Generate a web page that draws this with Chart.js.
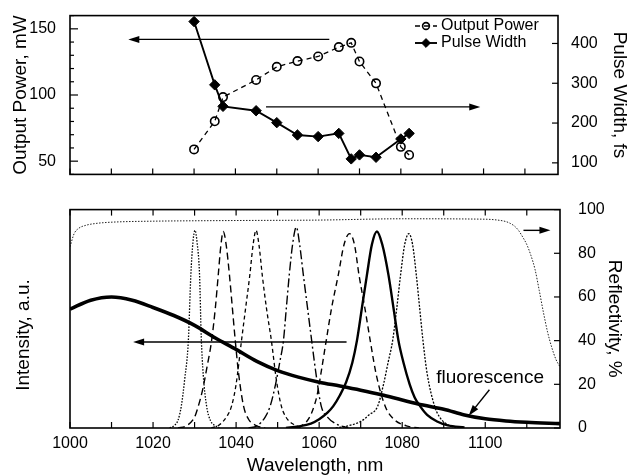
<!DOCTYPE html>
<html>
<head>
<meta charset="utf-8">
<script src="https://cdn.jsdelivr.net/npm/chart.js@4.4.0/dist/chart.umd.min.js"></script>
<style>
  html, body { margin: 0; padding: 0; background: #fff; }
  .panel { position: absolute; left: 0; }
</style>
</head>
<body>
<div style="position:relative;width:630px;height:475px">
  <div class="panel" style="top:0"><canvas id="pulseChart" width="630" height="190"></canvas></div>
  <div class="panel" style="top:190px"><canvas id="spectraChart" width="630" height="285"></canvas></div>
</div>
<script>
// ---- top panel: output power and pulse width vs wavelength ----
const wavelengths = [1030, 1035, 1037, 1045, 1050, 1055, 1060, 1065, 1068, 1070, 1074, 1080, 1082];
const outputPower = [58.9, 80.1, 98.4, 111.4, 121.3, 125.6, 129.1, 136.2, 139.4, 125.3, 108.8, 60.8, 54.7];
const pulseWidth  = [455, 296, 242, 231, 201, 170, 166, 174, 110, 120, 114, 160, 174];
const widthTicks  = [100, 200, 300, 400];

// ---- bottom panel: fluorescence, mirror reflectivity, laser spectra ----
const fluorWl = [1000, 1005, 1010, 1015, 1020, 1025, 1030, 1035, 1040, 1045, 1050, 1055, 1060, 1065, 1070, 1075, 1080, 1085, 1090, 1095, 1100, 1105, 1110, 1118];
const fluorI  = [54.4, 58.5, 60, 58.5, 55.2, 51.5, 47, 41.2, 36, 30.5, 26.3, 23.3, 21, 19.2, 17.3, 15.2, 12.8, 10.5, 8.6, 6, 4.2, 3.2, 2.6, 2];

const reflWl = [1000, 1001, 1002, 1004, 1006, 1008, 1012, 1020, 1040, 1060, 1080, 1100, 1103, 1105, 1106, 1107, 1108, 1109, 1110, 1111, 1112, 1113, 1114, 1115, 1116, 1117, 1118];
const reflR  = [83, 89, 91.3, 92.9, 93.6, 94, 94.4, 94.7, 95, 95.2, 95.8, 95.6, 95.2, 94.5, 93.7, 92.5, 90.5, 87.5, 84, 79, 72.5, 63, 53, 44, 37, 31.5, 28];

const peak1030 = [[1024,0],[1025,1],[1026,3.5],[1026.8,10],[1027.6,22],[1028.5,40],[1029.1,70],[1029.6,85],[1030.1,90.5],[1030.6,85],[1031.2,70],[1031.6,42],[1032.1,24],[1032.9,10],[1033.8,3.5],[1035,1],[1036,0]];
const peak1037 = [[1026,0],[1028,1],[1030,5],[1030.9,10],[1032,18],[1033,28],[1034.1,40],[1035,55],[1035.7,70],[1036.3,83],[1036.9,90],[1037.6,84],[1038.4,70],[1039.1,55],[1039.8,40],[1040.6,25],[1041.8,10],[1043,4],[1045,1],[1047,0]];
const peak1045 = [[1034,0],[1036,1.5],[1038,6],[1038.9,10],[1040,20],[1041.3,40],[1042.3,55],[1043.3,70],[1044.1,84],[1044.8,90.5],[1045.5,84],[1046.3,70],[1047.3,55],[1048.5,40],[1049.7,22],[1050.9,10],[1052,5],[1054,1.5],[1056,0]];
const peak1055 = [[1043,0],[1045,1],[1047,5],[1048.2,10],[1049.5,20],[1050.5,30],[1051.4,40],[1052.1,55],[1052.8,70],[1053.6,84],[1054.5,92],[1055.3,84],[1056.2,70],[1057.2,55],[1058.2,40],[1059.3,24],[1060.5,10],[1062,5],[1064,2],[1067,0]];
const peak1067 = [[1055,0],[1057,3],[1058.2,7],[1059.5,15],[1060.6,27],[1061.7,40],[1063,55],[1064.6,70],[1066,84],[1067.3,89],[1068.5,84],[1069.6,70],[1071,55],[1072.3,40],[1073.8,24],[1075.9,10],[1078,4],[1081,1],[1084,0]];
const peak1074 = [[1052,0],[1055,0.7],[1058,2],[1060,4],[1062,7],[1063.4,10],[1065,15],[1066.5,21],[1068,30],[1069.1,40],[1070.3,55],[1071.5,70],[1072.7,84],[1073.9,90],[1075.2,84],[1076.7,70],[1077.9,55],[1079.1,40],[1080.3,30],[1081.8,20],[1083,14],[1084.3,10],[1086,6],[1088.4,3],[1091,1.2],[1095,0.3]];
const peak1082 = [[1064,0],[1067,1],[1070,3],[1072,6],[1074.1,10],[1075.5,20],[1076.6,30],[1077.7,40],[1078.7,55],[1079.6,70],[1080.6,84],[1081.6,89],[1082.5,84],[1083.4,70],[1084.2,55],[1085,40],[1086,25],[1087.8,10],[1089,5],[1091,1.5],[1094,0]];

const FONT = "'Liberation Sans', Arial, Helvetica, sans-serif";
const tickFont = { family: FONT, size: 16 };
const titleFont = { family: FONT, size: 19, lineHeight: 1 };

const pairs = arr => arr.map(([x, y]) => ({ x, y }));
const zip = (xs, ys) => xs.map((x, i) => ({ x, y: ys[i] }));

// box around plot + inward tick marks
const frameTicks = {
  id: 'frameTicks',
  afterDraw(chart, args, opts) {
    const { ctx, chartArea: a } = chart;
    ctx.save();
    ctx.strokeStyle = '#000';
    ctx.lineWidth = 1.2;
    (opts.marks || []).forEach(m => {
      const s = chart.scales[m.scale];
      s.ticks.forEach(t => {
        const len = (m.major && t.value % m.major !== 0) ? m.minorLen : m.len;
        const p = s.getPixelForValue(t.value);
        ctx.beginPath();
        if (m.edge === 'bottom') { ctx.moveTo(p, a.bottom); ctx.lineTo(p, a.bottom - len); }
        else if (m.edge === 'top') { ctx.moveTo(p, a.top); ctx.lineTo(p, a.top + len); }
        else if (m.edge === 'left') { ctx.moveTo(a.left, p); ctx.lineTo(a.left + len, p); }
        else { ctx.moveTo(a.right, p); ctx.lineTo(a.right - len, p); }
        ctx.stroke();
      });
    });
    ctx.lineWidth = 1.6;
    ctx.strokeRect(a.left, a.top, a.right - a.left, a.bottom - a.top);
    ctx.restore();
  }
};

// arrows and free text given in data units
const notes = {
  id: 'notes',
  afterDatasetsDraw(chart, args, opts) {
    const { ctx } = chart;
    const xs = chart.scales.x;
    ctx.save();
    ctx.strokeStyle = '#000';
    ctx.fillStyle = '#000';
    (opts.arrows || []).forEach(ar => {
      const ys = chart.scales[ar.axis];
      const x1 = xs.getPixelForValue(ar.from[0]), y1 = ys.getPixelForValue(ar.from[1]);
      const x2 = xs.getPixelForValue(ar.to[0]), y2 = ys.getPixelForValue(ar.to[1]);
      const ang = Math.atan2(y2 - y1, x2 - x1);
      const hl = 11, hw = 3.5;
      ctx.lineWidth = 1.4;
      ctx.beginPath();
      ctx.moveTo(x1, y1);
      ctx.lineTo(x2 - Math.cos(ang) * hl * 0.8, y2 - Math.sin(ang) * hl * 0.8);
      ctx.stroke();
      ctx.beginPath();
      ctx.moveTo(x2, y2);
      ctx.lineTo(x2 - Math.cos(ang) * hl - Math.sin(ang) * hw, y2 - Math.sin(ang) * hl + Math.cos(ang) * hw);
      ctx.lineTo(x2 - Math.cos(ang) * hl + Math.sin(ang) * hw, y2 - Math.sin(ang) * hl - Math.cos(ang) * hw);
      ctx.closePath();
      ctx.fill();
    });
    (opts.texts || []).forEach(tx => {
      const ys = chart.scales[tx.axis];
      ctx.font = `${tx.size}px ${FONT}`;
      ctx.textAlign = 'left';
      ctx.textBaseline = 'middle';
      ctx.fillText(tx.text, xs.getPixelForValue(tx.at[0]), ys.getPixelForValue(tx.at[1]));
    });
    ctx.restore();
  }
};

// legend drawn inside the plot area, top right
const insideLegend = {
  id: 'insideLegend',
  afterDraw(chart, args, opts) {
    if (!opts.x) return;
    const { ctx } = chart;
    ctx.save();
    chart.data.datasets.forEach((ds, i) => {
      const cx = opts.x, cy = opts.y + i * opts.row;
      ctx.strokeStyle = '#000';
      ctx.lineWidth = ds.borderWidth;
      ctx.setLineDash(ds.borderDash || []);
      ctx.beginPath();
      ctx.moveTo(cx - 11, cy);
      ctx.lineTo(cx + 11, cy);
      ctx.stroke();
      ctx.setLineDash([]);
      ctx.fillStyle = ds.pointBackgroundColor;
      ctx.lineWidth = ds.pointBorderWidth;
      Chart.helpers.drawPoint(ctx, { pointStyle: ds.pointStyle, radius: ds.pointRadius - 0.8, rotation: 0, borderWidth: ds.pointBorderWidth }, cx, cy);
      ctx.fillStyle = '#000';
      ctx.font = `16px ${FONT}`;
      ctx.textAlign = 'left';
      ctx.textBaseline = 'middle';
      ctx.fillText(ds.label, cx + 15, cy);
    });
    ctx.restore();
  }
};

// rotated y title for intensity (sits lower than the plot centre)
const intensityTitle = {
  id: 'intensityTitle',
  afterDraw(chart, args, opts) {
    if (!opts.text) return;
    const { ctx } = chart;
    ctx.save();
    ctx.translate(opts.x, opts.y);
    ctx.rotate(-Math.PI / 2);
    ctx.fillStyle = '#000';
    ctx.font = `19px ${FONT}`;
    ctx.textAlign = 'center';
    ctx.textBaseline = 'middle';
    ctx.fillText(opts.text, 0, 0);
    ctx.restore();
  }
};

const pulseChart = new Chart(document.getElementById('pulseChart'), {
  type: 'line',
  data: {
    datasets: [
      {
        label: 'Output Power',
        data: zip(wavelengths, outputPower),
        yAxisID: 'yPower',
        borderColor: '#000',
        borderWidth: 1.3,
        borderDash: [5, 4],
        pointStyle: 'circle',
        pointRadius: 4.2,
        pointBorderWidth: 1.6,
        pointBackgroundColor: 'rgba(0,0,0,0)',
        pointBorderColor: '#000',
        tension: 0
      },
      {
        label: 'Pulse Width',
        data: zip(wavelengths, pulseWidth),
        yAxisID: 'yWidth',
        borderColor: '#000',
        borderWidth: 1.9,
        pointStyle: 'rectRot',
        pointRadius: 5.2,
        pointBorderWidth: 1,
        pointBackgroundColor: '#000',
        pointBorderColor: '#000',
        tension: 0
      }
    ]
  },
  options: {
    responsive: false,
    animation: false,
    layout: { padding: { top: 13 } },
    plugins: {
      legend: { display: false },
      tooltip: { enabled: false },
      frameTicks: { marks: [
        { scale: 'x', edge: 'bottom', len: 6 },
        { scale: 'yPower', edge: 'left', len: 8, major: 50, minorLen: 4 },
        { scale: 'yWidth', edge: 'right', len: 6 }
      ] },
      notes: { arrows: [
        { axis: 'yPower', from: [1062.7, 142], to: [1014.1, 142] },
        { axis: 'yWidth', from: [1047.4, 240.6], to: [1099.2, 240.6] }
      ] },
      insideLegend: { x: 426, y: 26, row: 17 }
    },
    scales: {
      x: {
        type: 'linear', min: 1000, max: 1118,
        ticks: { stepSize: 10, display: false, includeBounds: false },
        grid: { display: false }, border: { display: false },
        afterFit: s => { s.height = 7; }
      },
      yPower: {
        position: 'left', min: 40, max: 160,
        ticks: { stepSize: 10, autoSkip: false, padding: 6, font: tickFont, color: '#000',
                 callback: v => (v % 50 === 0 ? v : '') },
        grid: { display: false }, border: { display: false },
        title: { display: true, text: 'Output Power, mW', font: titleFont, color: '#000', padding: { top: 11 } },
        afterFit: s => { s.width = 70; }
      },
      yWidth: {
        position: 'right', min: 71, max: 470,
        ticks: { autoSkip: false, padding: 5, font: tickFont, color: '#000' },
        afterBuildTicks: s => { s.ticks = widthTicks.map(v => ({ value: v })); },
        grid: { display: false }, border: { display: false },
        title: { display: true, text: 'Pulse Width, fs', font: titleFont, color: '#000', padding: { top: 1 } },
        afterFit: s => { s.width = 72; }
      }
    }
  },
  plugins: [frameTicks, notes, insideLegend]
});

const specLine = (data, dash, width) => ({
  data: pairs(data), yAxisID: 'yI', borderColor: '#000', borderWidth: width,
  borderDash: dash, pointRadius: 0, cubicInterpolationMode: 'monotone'
});

const spectraChart = new Chart(document.getElementById('spectraChart'), {
  type: 'line',
  data: {
    datasets: [
      { label: 'Reflectivity', data: zip(reflWl, reflR), yAxisID: 'yR', borderColor: '#222', borderWidth: 1,
        borderDash: [1.5, 1.5], pointRadius: 0, cubicInterpolationMode: 'monotone' },
      { label: 'fluorescence', data: zip(fluorWl, fluorI), yAxisID: 'yI', borderColor: '#000', borderWidth: 3.6,
        pointRadius: 0, cubicInterpolationMode: 'monotone' },
      { label: '1030 nm', ...specLine(peak1030, [1.5, 1.5], 1.3) },
      { label: '1037 nm', ...specLine(peak1037, [7, 4], 1.4) },
      { label: '1045 nm', ...specLine(peak1045, [4, 3], 1.3) },
      { label: '1055 nm', ...specLine(peak1055, [9, 3, 2, 3], 1.4) },
      { label: '1067 nm', ...specLine(peak1067, [6, 4], 1.4) },
      { label: '1074 nm', ...specLine(peak1074, [], 2.4) },
      { label: '1082 nm', ...specLine(peak1082, [2, 1.5], 1.3) }
    ]
  },
  options: {
    responsive: false,
    animation: false,
    layout: { padding: { top: 17 } },
    plugins: {
      legend: { display: false },
      tooltip: { enabled: false },
      frameTicks: { marks: [
        { scale: 'x', edge: 'bottom', len: 6 },
        { scale: 'x', edge: 'top', len: 6 },
        { scale: 'yR', edge: 'right', len: 6 }
      ] },
      notes: {
        arrows: [
          { axis: 'yI', from: [1066.6, 39.4], to: [1015.2, 39.4] },
          { axis: 'yR', from: [1109.2, 90.5], to: [1115.7, 90.5] },
          { axis: 'yI', from: [1101, 17.5], to: [1096, 5.6] }
        ],
        texts: [{ axis: 'yI', at: [1088.2, 23], text: 'fluorescence', size: 19 }]
      },
      intensityTitle: { text: 'Intensity, a.u.', x: 24, y: 145 }
    },
    scales: {
      x: {
        type: 'linear', min: 1000, max: 1118,
        ticks: { stepSize: 10, includeBounds: false, autoSkip: false, maxRotation: 0, padding: -2,
                 font: tickFont, color: '#000', callback: v => (v % 20 === 0 ? v : '') },
        grid: { display: false }, border: { display: false },
        title: { display: true, text: 'Wavelength, nm', font: titleFont, color: '#000', padding: { bottom: 0 } },
        afterFit: s => { s.height = 47; }
      },
      yI: {
        position: 'left', min: 0, max: 100,
        ticks: { display: false },
        grid: { display: false }, border: { display: false },
        afterFit: s => { s.width = 70; }
      },
      yR: {
        position: 'right', min: 0, max: 100,
        ticks: { stepSize: 20, padding: 10, font: tickFont, color: '#000' },
        grid: { display: false }, border: { display: false },
        title: { display: true, text: 'Reflectivity, %', font: titleFont, color: '#000', padding: { top: 6.5 } },
        afterFit: s => { s.width = 70; }
      }
    }
  },
  plugins: [frameTicks, notes, intensityTitle]
});
</script>
</body>
</html>
